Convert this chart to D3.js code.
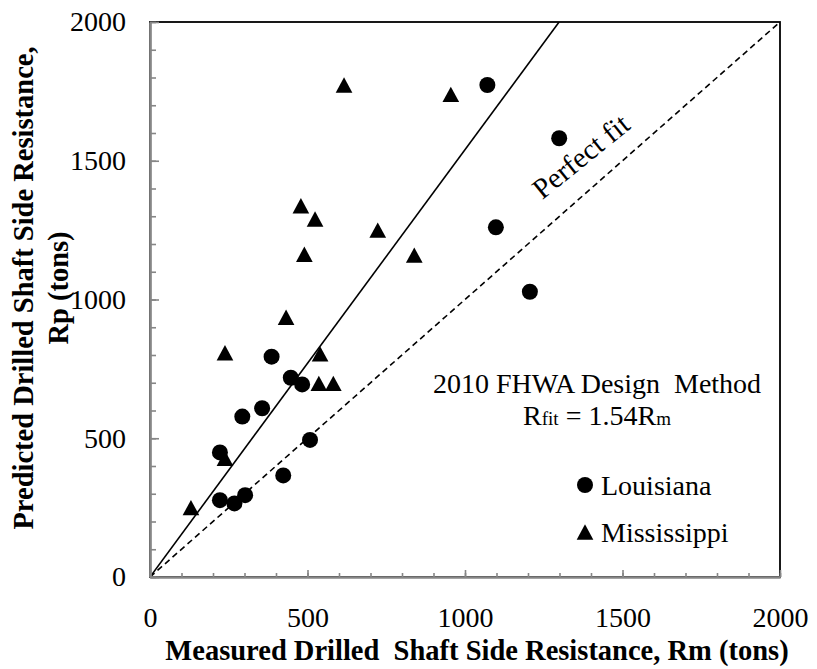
<!DOCTYPE html>
<html>
<head>
<meta charset="utf-8">
<script src="https://cdn.jsdelivr.net/npm/d3@7"></script>
<style>
  html, body { margin: 0; padding: 0; background: #fff; }
  svg { display: block; font-family: "Liberation Serif", "Times New Roman", serif; }
</style>
</head>
<body>
<svg id="chart" width="817" height="669"></svg>
<script>
// Measured (Rm) and predicted (Rp) side resistance, tons
const louisianaMeasured  = [222, 268, 302, 222, 293, 356, 423, 386, 447, 483, 508, 1071, 1098, 1206, 1299];
const louisianaPredicted = [277, 265, 295, 449, 578, 608, 366, 794, 718, 694, 494, 1773, 1260, 1028, 1581];

const mississippiMeasured  = [130, 238, 238, 432, 490, 479, 524, 540, 536, 582, 616, 723, 839, 955];
const mississippiPredicted = [250, 428, 808, 936, 1163, 1338, 1290, 804, 698, 698, 1773, 1250, 1160, 1739];

const majorTicks = [0, 500, 1000, 1500, 2000];
const minorTicks = d3.range(0, 2001, 100);
const fitSlope = 1.54;

const svg = d3.select("#chart");
const plotLeft = 150, plotRight = 780, plotTop = 22, plotBottom = 577;

const x = d3.scaleLinear().domain([0, 2000]).range([plotLeft, plotRight]);
const y = d3.scaleLinear().domain([0, 2000]).range([plotBottom, plotTop]);

const axisGrey = "#868686";

// plot frame (top and right edges in black)
svg.append("rect")
  .attr("x", plotLeft).attr("y", plotTop)
  .attr("width", plotRight - plotLeft).attr("height", plotBottom - plotTop)
  .attr("fill", "none").attr("stroke", "#000").attr("stroke-width", 1.8);

// reference lines
svg.append("defs").append("clipPath").attr("id", "plotClip")
  .append("rect").attr("x", plotLeft).attr("y", plotTop)
  .attr("width", plotRight - plotLeft).attr("height", plotBottom - plotTop);

const lines = svg.append("g").attr("clip-path", "url(#plotClip)");
lines.append("line")
  .attr("x1", x(0)).attr("y1", y(0))
  .attr("x2", x(2000)).attr("y2", y(2000))
  .attr("stroke", "#000").attr("stroke-width", 1.6)
  .attr("stroke-dasharray", "6,4");
lines.append("line")
  .attr("x1", x(0)).attr("y1", y(0))
  .attr("x2", x(2000 / fitSlope)).attr("y2", y(2000))
  .attr("stroke", "#000").attr("stroke-width", 1.6);

// axes
function styleAxis(g) {
  g.select(".domain").attr("stroke", axisGrey).attr("stroke-width", 2.2);
  g.selectAll(".tick line").attr("stroke", axisGrey).attr("stroke-width", 1.6);
  g.selectAll(".tick text").attr("fill", "#000")
    .style("font-family", "'Liberation Serif', serif").style("font-size", "28px");
}

svg.append("g").attr("transform", `translate(0,${plotBottom})`)
  .call(d3.axisBottom(x).tickValues(minorTicks).tickSize(-4).tickSizeOuter(0).tickFormat(""))
  .call(styleAxis);
svg.append("g").attr("transform", `translate(0,${plotBottom})`)
  .call(d3.axisBottom(x).tickValues(majorTicks).tickSize(-7).tickSizeOuter(0).tickPadding(30).tickFormat(d3.format("d")))
  .call(styleAxis);

svg.append("g").attr("transform", `translate(${plotLeft},0)`)
  .call(d3.axisLeft(y).tickValues(minorTicks).tickSize(-6).tickSizeOuter(0).tickFormat(""))
  .call(styleAxis);
svg.append("g").attr("transform", `translate(${plotLeft},0)`)
  .call(d3.axisLeft(y).tickValues(majorTicks).tickSize(-9).tickSizeOuter(0).tickPadding(24).tickFormat(d3.format("d")))
  .call(styleAxis);

// marker shapes
const triangleShape = {
  draw(context, size) {
    const w = Math.sqrt(size) * 1.1, h = w * 0.92;
    context.moveTo(0, -h / 2);
    context.lineTo(w / 2, h / 2);
    context.lineTo(-w / 2, h / 2);
    context.closePath();
  }
};
const circlePath = d3.symbol(d3.symbolCircle, Math.PI * 8 * 8)();
const trianglePath = d3.symbol(triangleShape, 230)();

const louisiana = louisianaMeasured.map((m, i) => ({ m, p: louisianaPredicted[i] }));
const mississippi = mississippiMeasured.map((m, i) => ({ m, p: mississippiPredicted[i] }));

svg.append("g").selectAll("path").data(mississippi).join("path")
  .attr("d", trianglePath)
  .attr("transform", d => `translate(${x(d.m)},${y(d.p)})`)
  .attr("fill", "#000");
svg.append("g").selectAll("path").data(louisiana).join("path")
  .attr("d", circlePath)
  .attr("transform", d => `translate(${x(d.m)},${y(d.p)})`)
  .attr("fill", "#000");

// line labels
svg.append("text")
  .attr("transform", "translate(587,164) rotate(-39)")
  .attr("text-anchor", "middle")
  .style("font-size", "29px")
  .text("Perfect fit");

const note = svg.append("text")
  .attr("text-anchor", "middle")
  .style("font-size", "28px");
note.append("tspan").attr("x", 597).attr("y", 393)
  .style("white-space", "pre").text("2010 FHWA Design  Method");
const eq = note.append("tspan").attr("x", 597).attr("y", 425);
eq.append("tspan").text("R");
eq.append("tspan").style("font-size", "19px").text("fit");
eq.append("tspan").text(" = 1.54R");
eq.append("tspan").style("font-size", "19px").text("m");

// legend
const legend = [
  { name: "Louisiana", path: circlePath, cy: 485, ty: 495 },
  { name: "Mississippi", path: trianglePath, cy: 532, ty: 542 }
];
const lg = svg.append("g").selectAll("g").data(legend).join("g");
lg.append("path").attr("d", d => d.path)
  .attr("transform", d => `translate(585,${d.cy})`).attr("fill", "#000");
lg.append("text").attr("x", 601).attr("y", d => d.ty)
  .style("font-size", "28px").text(d => d.name);

// axis titles
svg.append("text")
  .attr("x", 477).attr("y", 660)
  .attr("text-anchor", "middle")
  .style("font-size", "28.5px").style("font-weight", "bold").style("white-space", "pre")
  .text("Measured Drilled  Shaft Side Resistance, Rm (tons)");

const yTitle = svg.append("text")
  .attr("transform", "translate(0,288) rotate(-90)")
  .attr("text-anchor", "middle")
  .style("font-size", "28.5px").style("font-weight", "bold");
yTitle.append("tspan").attr("x", 0).attr("y", 33).text("Predicted Drilled Shaft Side Resistance,");
yTitle.append("tspan").attr("x", 0).attr("y", 68).text("Rp (tons)");
</script>
</body>
</html>
